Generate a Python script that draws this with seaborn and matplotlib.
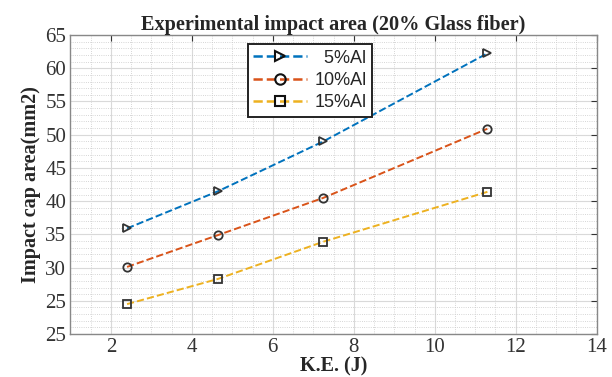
import matplotlib
matplotlib.use("Agg")
import matplotlib.pyplot as plt
from matplotlib.lines import Line2D
from matplotlib.legend_handler import HandlerTuple
from matplotlib.ticker import MultipleLocator, FixedLocator
import pandas as pd
import seaborn as sns

# values
ke = [2.4, 4.65, 7.25, 11.3]
al5 = [35.9, 41.5, 49.0, 62.25]
al10 = [30.1, 34.9, 40.5, 50.9]
al15 = [24.5, 28.3, 33.9, 41.4]
labels = ["  5%Al", "10%Al", "15%Al"]
yticks = [20, 25, 30, 35, 40, 45, 50, 55, 60, 65]
ytick_labels = ["25", "25", "30", "35", "40", "45", "50", "55", "60", "65"]

df = pd.DataFrame({
    "ke": ke * 3,
    "area": al5 + al10 + al15,
    "mix": [labels[0]] * 4 + [labels[1]] * 4 + [labels[2]] * 4,
})

sns.set_style("white")
plt.rcParams["font.family"] = ["Liberation Serif", "DejaVu Serif"]

colors = ["#0072BD", "#D95319", "#EDB120"]
markers = [">", "o", "s"]
edge = "#333333"

fig, ax = plt.subplots(figsize=(6.12, 3.77), dpi=100)
fig.subplots_adjust(left=0.115, right=0.975, top=0.907, bottom=0.114)

handles = []
for lab, c, m in zip(labels, colors, markers):
    sns.lineplot(data=df[df["mix"] == lab], x="ke", y="area", ax=ax,
                 color=c, linestyle="--", linewidth=1.4, legend=False,
                 marker=m, markersize=6, markerfacecolor="none",
                 markeredgecolor=edge, markeredgewidth=1.3)
    # legend entry: dashed line with one marker sitting in its middle
    line = Line2D([], [], color=c, linestyle="--", linewidth=1.8)
    mark = Line2D([], [], linestyle="none", marker=m, markersize=7.5,
                  markerfacecolor="none", markeredgecolor="#111111",
                  markeredgewidth=1.5)
    handles.append((line, mark))

ax.set_xlim(1, 14)
ax.set_ylim(20, 65)
ax.xaxis.set_major_locator(MultipleLocator(2))
ax.xaxis.set_minor_locator(MultipleLocator(0.5))
ax.yaxis.set_major_locator(FixedLocator(yticks))
ax.set_yticklabels(ytick_labels)
ax.yaxis.set_minor_locator(MultipleLocator(1))

ax.grid(which="major", color="#d9d9d9", linewidth=0.8, linestyle="-")
ax.grid(which="minor", color="#c8c8c8", linewidth=0.6, linestyle=":")
ax.tick_params(which="both", direction="in", top=True, right=True,
               labelsize=15, colors="#333333", length=4)
ax.tick_params(axis="x", pad=3)
ax.tick_params(axis="y", pad=3)
ax.tick_params(which="minor", length=0)
for s in ax.spines.values():
    s.set_color("#888888")
    s.set_linewidth(1.0)

ax.set_title("Experimental impact area (20% Glass fiber)",
             fontsize=14.6, fontweight="bold", pad=4)
ax.set_xlabel("K.E. (J)", fontsize=14.5, fontweight="bold", va="bottom")
ax.xaxis.set_label_coords(0.5, -0.142)
ax.set_ylabel("Impact cap area(mm2)", fontsize=14.5, fontweight="bold", labelpad=3)

leg = ax.legend(handles=handles, labels=labels, loc="upper center",
                bbox_to_anchor=(0.455, 1.0),
                handler_map={tuple: HandlerTuple(ndivide=1, pad=0)},
                prop={"family": "Liberation Sans", "size": 13},
                handlelength=3.0, frameon=True, fancybox=False,
                edgecolor="#222222", framealpha=1, borderpad=0.3,
                labelspacing=0.3, handletextpad=0.4)
leg.get_frame().set_linewidth(1.4)

fig.savefig("out.png", dpi=100)
